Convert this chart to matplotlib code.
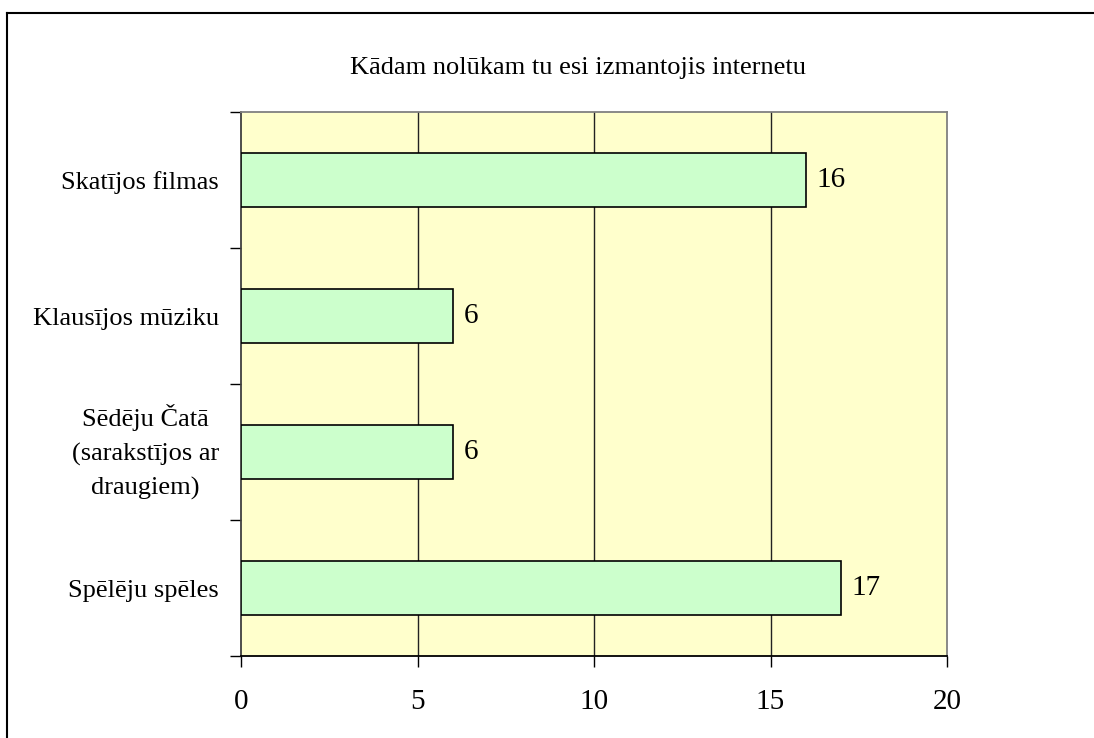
import matplotlib.pyplot as plt
from matplotlib.lines import Line2D

# dati
kategorijas = ["Skatījos filmas", "Klausījos mūziku",
               "Sēdēju Čatā\n(sarakstījos ar\ndraugiem)", "Spēlēju spēles"]
vertibas = [16, 6, 6, 17]
x_ticks = [0, 5, 10, 15, 20]
virsraksts = "Kādam nolūkam tu esi izmantojis internetu"

plt.rcParams['font.family'] = ['Liberation Serif', 'DejaVu Serif']

fig = plt.figure(figsize=(10.94, 7.38), dpi=100)
ax = fig.add_axes([241/1094, 1 - 656/738, (947 - 241)/1094, (656 - 112)/738])
ax.set_facecolor('#FFFFCC')

y = list(range(len(kategorijas)))
bars = ax.barh(y, vertibas, height=0.4, color='#CCFFCC', edgecolor='black',
               linewidth=1.2, zorder=3)
for b, v in zip(bars, vertibas):
    ax.text(b.get_width() + 0.3, b.get_y() + b.get_height() / 2, str(v),
            va='center', ha='left', fontsize=21, zorder=4)

ax.set_xlim(0, 20)
ax.set_ylim(len(kategorijas) - 0.5, -0.5)
ax.set_xticks(x_ticks)
ax.set_xticklabels([str(t) for t in x_ticks], fontsize=21)
ax.tick_params(axis='x', direction='out', length=8, width=1, pad=16)

ax.set_yticks(y)
ax.set_yticklabels(kategorijas, fontsize=19)
for lab in ax.get_yticklabels():
    lab.set_multialignment('center')
    lab.set_linespacing(1.65)
    if '\n' in lab.get_text():
        lab.set_verticalalignment('center')
ax.tick_params(axis='y', which='major', length=0, pad=16)
ax.set_yticks([i - 0.5 for i in range(len(kategorijas) + 1)], minor=True)
ax.tick_params(axis='y', which='minor', direction='out', length=8, width=1)

for g in x_ticks[1:-1]:
    ax.axvline(g, color='#222222', linewidth=1, zorder=1)

ax.spines['top'].set_color('#808080')
ax.spines['right'].set_color('#808080')
ax.spines['left'].set_color('#404040')
ax.spines['bottom'].set_color('black')
for s in ax.spines.values():
    s.set_linewidth(1.3)

fig.text(578/1094, 1 - 68/738, virsraksts, ha='center', va='center', fontsize=19)

# ārējā rāmja līnijas (tikai augša un kreisā puse redzama)
fig.add_artist(Line2D([7/1094, 1], [1 - 12.5/738, 1 - 12.5/738], color='black', linewidth=1.5))
fig.add_artist(Line2D([7/1094, 7/1094], [0, 1 - 12.5/738], color='black', linewidth=1.5))

fig.savefig('out.png', dpi=100)
